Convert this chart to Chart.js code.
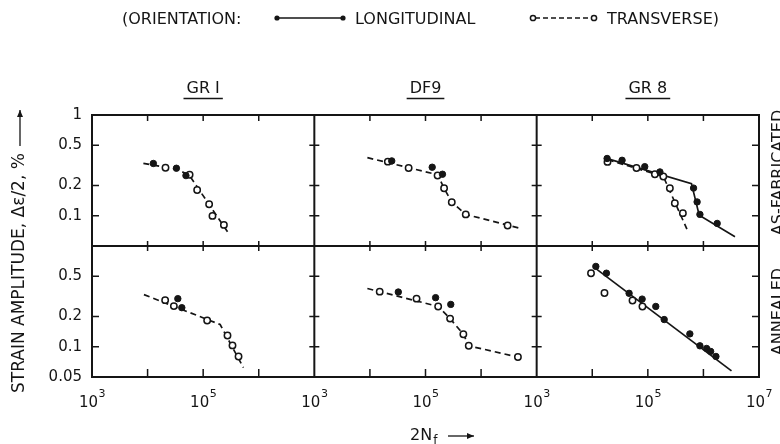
<!DOCTYPE html>
<html>
<head>
<meta charset="utf-8">
<script src="https://cdn.jsdelivr.net/npm/chart.js@4.4.0/dist/chart.umd.min.js"></script>
<style>
  html, body { margin: 0; padding: 0; background: #fff; }
  #wrap { width: 780px; height: 444px; }
</style>
</head>
<body>
<div id="wrap"><canvas id="fatigueChart" width="780" height="444"></canvas></div>
<script>
// Cycles to failure (2Nf) and strain amplitude (%)
const panelNames = ['GR I', 'DF9', 'GR 8'];
const rowNames = ['AS-FABRICATED', 'ANNEALED'];
const xLabelExps = [[3, 5], [3, 5], [3, 5, 7]];
const xTickMarks = [1e4, 1e5, 1e6];
const yTopLabels = [1, 0.5, 0.2, 0.1];
const yBottomLabels = [0.5, 0.2, 0.1, 0.05];
const yTickMarks = [0.5, 0.2, 0.1];

// GR1, as-fabricated
const gr1FabLongN = [1.27e4, 3.3e4, 4.9e4];
const gr1FabLongS = [0.33, 0.296, 0.25];
const gr1FabTransN = [2.1e4, 5.7e4, 7.8e4, 1.28e5, 1.47e5, 2.36e5];
const gr1FabTransS = [0.299, 0.255, 0.18, 0.13, 0.0995, 0.081];
const gr1FabFitN = [8.4e3, 3.3e4, 5.6e4, 2.86e5];
const gr1FabFitS = [0.331, 0.29, 0.253, 0.067];

// DF9, as-fabricated
const df9FabLongN = [2.47e4, 1.32e5, 2.02e5];
const df9FabLongS = [0.35, 0.303, 0.258];
const df9FabTransN = [2.1e4, 4.97e4, 1.65e5, 2.16e5, 2.97e5, 5.3e5, 3.0e6];
const df9FabTransS = [0.344, 0.298, 0.251, 0.187, 0.136, 0.103, 0.08];
const df9FabFitN = [9.0e3, 1.65e5, 2.16e5, 2.97e5, 5.3e5, 5.06e6];
const df9FabFitS = [0.377, 0.255, 0.187, 0.136, 0.103, 0.0748];

// GR8, as-fabricated
const gr8FabLongN = [1.85e4, 3.44e4, 8.8e4, 1.65e5, 6.65e5, 7.7e5, 8.65e5, 1.77e6];
const gr8FabLongS = [0.37, 0.355, 0.307, 0.272, 0.188, 0.137, 0.103, 0.0838];
const gr8FabTransN = [1.88e4, 6.25e4, 1.34e5, 1.9e5, 2.49e5, 3.06e5, 4.27e5];
const gr8FabTransS = [0.342, 0.298, 0.258, 0.245, 0.187, 0.133, 0.106];
const gr8FabLongFitN = [1.68e4, 6.1e5, 8.4e5, 3.7e6];
const gr8FabLongFitS = [0.375, 0.208, 0.101, 0.0618];
const gr8FabTransFitN = [1.9e4, 1.9e5, 5.05e5];
const gr8FabTransFitS = [0.36, 0.245, 0.0736];

// GR1, annealed
const gr1AnnLongN = [3.5e4, 4.13e4];
const gr1AnnLongS = [0.3, 0.244];
const gr1AnnTransN = [2.07e4, 2.97e4, 1.18e5, 2.74e5, 3.37e5, 4.33e5];
const gr1AnnTransS = [0.29, 0.253, 0.182, 0.129, 0.103, 0.08];
const gr1AnnFitN = [8.6e3, 2.02e5, 5.3e5];
const gr1AnnFitS = [0.329, 0.166, 0.062];

// DF9, annealed
const df9AnnLongN = [3.24e4, 1.52e5, 2.85e5];
const df9AnnLongS = [0.349, 0.307, 0.263];
const df9AnnTransN = [1.5e4, 6.9e4, 1.69e5, 2.77e5, 4.8e5, 6.0e5, 4.6e6];
const df9AnnTransS = [0.352, 0.3, 0.251, 0.19, 0.133, 0.102, 0.0789];
const df9AnnFitN = [9.0e3, 1.69e5, 2.77e5, 4.8e5, 6.0e5, 4.6e6];
const df9AnnFitS = [0.378, 0.251, 0.19, 0.133, 0.102, 0.0789];

// GR8, annealed
const gr8AnnLongN = [1.16e4, 1.8e4, 4.6e4, 7.9e4, 1.39e5, 1.97e5, 5.7e5, 8.65e5, 1.14e6, 1.35e6, 1.68e6];
const gr8AnnLongS = [0.627, 0.537, 0.339, 0.297, 0.251, 0.186, 0.134, 0.102, 0.096, 0.0898, 0.08];
const gr8AnnTransN = [9.5e3, 1.66e4, 5.3e4, 8.0e4];
const gr8AnnTransS = [0.537, 0.341, 0.288, 0.251];
const gr8AnnFitN = [1.1e4, 3.2e6];
const gr8AnnFitS = [0.61, 0.0575];

const INK = '#151515';
const FONT = '"DejaVu Sans", sans-serif';
Chart.defaults.font.family = FONT;
Chart.defaults.color = INK;

const pts = (n, s) => n.map((v, i) => ({ x: v, y: s[i] }));

function longSet(n, s, xId, yId) {
  return { data: pts(n, s), xAxisID: xId, yAxisID: yId, showLine: false,
    pointRadius: 3.2, pointBackgroundColor: INK, pointBorderColor: INK, pointBorderWidth: 1, order: 0 };
}
function transSet(n, s, xId, yId) {
  return { data: pts(n, s), xAxisID: xId, yAxisID: yId, showLine: false,
    pointRadius: 3.2, pointBackgroundColor: '#fff', pointBorderColor: INK, pointBorderWidth: 1.5, order: 0 };
}
function fitSet(n, s, xId, yId, dashed) {
  return { data: pts(n, s), xAxisID: xId, yAxisID: yId, showLine: true, pointRadius: 0,
    borderColor: INK, borderWidth: 1.7, borderDash: dashed ? [6, 4] : [], fill: false, order: 1 };
}

const datasets = [
  fitSet(gr1FabFitN, gr1FabFitS, 'x1', 'yT', true),
  longSet(gr1FabLongN, gr1FabLongS, 'x1', 'yT'),
  transSet(gr1FabTransN, gr1FabTransS, 'x1', 'yT'),
  fitSet(df9FabFitN, df9FabFitS, 'x2', 'yT', true),
  longSet(df9FabLongN, df9FabLongS, 'x2', 'yT'),
  transSet(df9FabTransN, df9FabTransS, 'x2', 'yT'),
  fitSet(gr8FabLongFitN, gr8FabLongFitS, 'x3', 'yT', false),
  fitSet(gr8FabTransFitN, gr8FabTransFitS, 'x3', 'yT', true),
  longSet(gr8FabLongN, gr8FabLongS, 'x3', 'yT'),
  transSet(gr8FabTransN, gr8FabTransS, 'x3', 'yT'),
  fitSet(gr1AnnFitN, gr1AnnFitS, 'x1', 'yB', true),
  longSet(gr1AnnLongN, gr1AnnLongS, 'x1', 'yB'),
  transSet(gr1AnnTransN, gr1AnnTransS, 'x1', 'yB'),
  fitSet(df9AnnFitN, df9AnnFitS, 'x2', 'yB', true),
  longSet(df9AnnLongN, df9AnnLongS, 'x2', 'yB'),
  transSet(df9AnnTransN, df9AnnTransS, 'x2', 'yB'),
  fitSet(gr8AnnFitN, gr8AnnFitS, 'x3', 'yB', false),
  longSet(gr8AnnLongN, gr8AnnLongS, 'x3', 'yB'),
  transSet(gr8AnnTransN, gr8AnnTransS, 'x3', 'yB')
];

function matchLabel(v, list) {
  const hit = list.find(t => Math.abs(v / t - 1) < 1e-6);
  return hit === undefined ? '' : String(hit);
}

function xScale() {
  return {
    type: 'logarithmic', position: 'bottom', stack: 'cols', min: 1e3, max: 1e7,
    grid: { display: false, drawTicks: false }, border: { display: false },
    ticks: { display: false },
    afterFit: s => { s.height = 67; }
  };
}
function yScale(labels) {
  return {
    type: 'logarithmic', position: 'left', stack: 'rows', min: 0.05, max: 1,
    grid: { display: false, drawTicks: false }, border: { display: false },
    ticks: { autoSkip: false, padding: 10, font: { size: 15 }, color: INK,
      callback: v => matchLabel(v, labels) },
    afterFit: s => { s.width = 92; }
  };
}

function arrowLine(ctx, x0, y0, x1, y1) {
  ctx.beginPath();
  ctx.moveTo(x0, y0); ctx.lineTo(x1, y1);
  ctx.stroke();
  const a = Math.atan2(y1 - y0, x1 - x0);
  ctx.beginPath();
  ctx.moveTo(x1, y1);
  ctx.lineTo(x1 - 7 * Math.cos(a) + 3 * Math.sin(a), y1 - 7 * Math.sin(a) - 3 * Math.cos(a));
  ctx.lineTo(x1 - 7 * Math.cos(a) - 3 * Math.sin(a), y1 - 7 * Math.sin(a) + 3 * Math.cos(a));
  ctx.closePath();
  ctx.fill();
}

// frame, inward ticks and the lettering around the panels
const framePlugin = {
  id: 'framePlugin',
  afterDraw(chart) {
    const ctx = chart.ctx;
    const { x1, x2, x3, yT, yB } = chart.scales;
    const xs = [x1, x2, x3];
    const top = yT.top, mid = yT.bottom, bot = yB.bottom;
    const left = x1.left, right = x3.right;
    ctx.save();
    ctx.strokeStyle = INK;
    ctx.fillStyle = INK;
    ctx.lineWidth = 2;
    ctx.beginPath();
    [top, mid, bot].forEach(y => { ctx.moveTo(left - 1, y); ctx.lineTo(right + 1, y); });
    [x1.left, x1.right, x2.right, x3.right].forEach(x => { ctx.moveTo(x, top); ctx.lineTo(x, bot); });
    ctx.stroke();

    ctx.lineWidth = 1.5;
    ctx.beginPath();
    xs.forEach(s => xTickMarks.forEach(v => {
      const x = s.getPixelForValue(v);
      ctx.moveTo(x, top); ctx.lineTo(x, top + 6);
      ctx.moveTo(x, mid - 5); ctx.lineTo(x, mid + 5);
      ctx.moveTo(x, bot - 8); ctx.lineTo(x, bot);
    }));
    [yT, yB].forEach(s => yTickMarks.forEach(v => {
      const y = s.getPixelForValue(v);
      ctx.moveTo(left, y); ctx.lineTo(left + 7, y);
      [x1.right, x2.right].forEach(x => { ctx.moveTo(x - 5, y); ctx.lineTo(x + 5, y); });
      ctx.moveTo(right - 7, y); ctx.lineTo(right, y);
    }));
    ctx.stroke();

    // x tick labels: 10 with a raised exponent
    xs.forEach((s, i) => xLabelExps[i].forEach(e => {
      const x = s.getPixelForValue(Math.pow(10, e));
      ctx.font = '15px ' + FONT;
      const w1 = ctx.measureText('10').width;
      ctx.font = '11px ' + FONT;
      const w2 = ctx.measureText(String(e)).width;
      const x0 = x - (w1 + w2) / 2;
      ctx.textAlign = 'left';
      ctx.textBaseline = 'alphabetic';
      ctx.font = '15px ' + FONT;
      ctx.fillText('10', x0, 407);
      ctx.font = '11px ' + FONT;
      ctx.fillText(String(e), x0 + w1 + 0.5, 397);
    }));

    // x axis title
    ctx.font = '16px ' + FONT;
    ctx.fillText('2N', 410, 440);
    const wN = ctx.measureText('2N').width;
    ctx.font = '12px ' + FONT;
    ctx.fillText('f', 410 + wN + 1, 444);
    ctx.lineWidth = 1.3;
    arrowLine(ctx, 448, 436, 474, 436);

    // panel titles, underlined
    ctx.font = '16px ' + FONT;
    ctx.textAlign = 'center';
    xs.forEach((s, i) => {
      const cx = (s.left + s.right) / 2;
      ctx.fillText(panelNames[i], cx, 93);
      const w = ctx.measureText(panelNames[i]).width;
      ctx.lineWidth = 1.5;
      ctx.beginPath();
      ctx.moveTo(cx - w / 2 - 3, 98.5); ctx.lineTo(cx + w / 2 + 3, 98.5);
      ctx.stroke();
    });

    // row labels on the right
    ctx.textBaseline = 'middle';
    [[rowNames[0], (top + mid) / 2 - 8], [rowNames[1], (mid + bot) / 2]].forEach(([t, cy]) => {
      ctx.save();
      ctx.translate(779, cy);
      ctx.rotate(-Math.PI / 2);
      ctx.fillText(t, 0, 0);
      ctx.restore();
    });

    // y axis title with arrow
    ctx.save();
    ctx.translate(20, 250);
    ctx.rotate(-Math.PI / 2);
    ctx.textAlign = 'left';
    ctx.font = '17px ' + FONT;
    const yTitle = 'STRAIN AMPLITUDE, \u0394\u03b5/2, %';
    ctx.fillText(yTitle, -143, 0);
    const wy = ctx.measureText(yTitle).width;
    ctx.lineWidth = 1.3;
    arrowLine(ctx, Math.min(-143 + wy + 7, 105), 0, 140, 0);
    ctx.restore();

    // orientation key
    ctx.font = '16px ' + FONT;
    ctx.textAlign = 'left';
    ctx.textBaseline = 'alphabetic';
    ctx.fillText('(ORIENTATION:', 122, 24);
    ctx.fillText('LONGITUDINAL', 355, 24);
    ctx.fillText('TRANSVERSE)', 607, 24);
    ctx.lineWidth = 1.5;
    ctx.beginPath();
    ctx.moveTo(277, 18); ctx.lineTo(343, 18);
    ctx.stroke();
    [277, 343].forEach(x => { ctx.beginPath(); ctx.arc(x, 18, 2.6, 0, Math.PI * 2); ctx.fill(); });
    ctx.setLineDash([5, 3]);
    ctx.beginPath();
    ctx.moveTo(535, 18); ctx.lineTo(591, 18);
    ctx.stroke();
    ctx.setLineDash([]);
    [533, 594].forEach(x => {
      ctx.beginPath(); ctx.arc(x, 18, 2.6, 0, Math.PI * 2);
      ctx.fillStyle = '#fff'; ctx.fill(); ctx.stroke(); ctx.fillStyle = INK;
    });
    ctx.restore();
  }
};

new Chart(document.getElementById('fatigueChart'), {
  type: 'scatter',
  data: { datasets },
  options: {
    responsive: false,
    animation: false,
    events: [],
    layout: { padding: { left: 0, right: 21, top: 115, bottom: 0 } },
    plugins: { legend: { display: false }, tooltip: { enabled: false } },
    scales: {
      x1: xScale(),
      x2: xScale(),
      x3: xScale(),
      yB: yScale(yBottomLabels),
      yT: yScale(yTopLabels)
    }
  },
  plugins: [framePlugin]
});
</script>
</body>
</html>
